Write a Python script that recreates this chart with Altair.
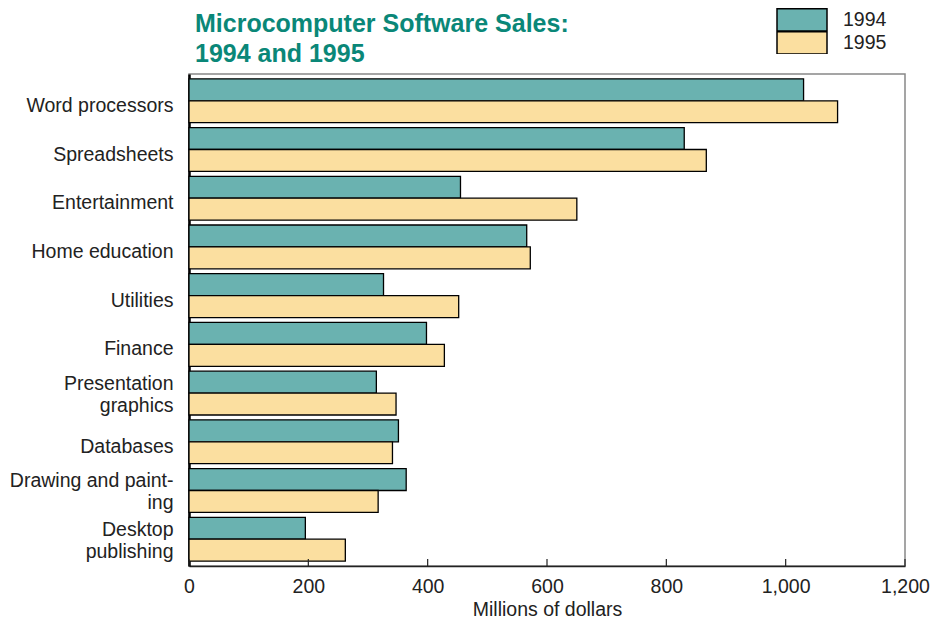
import altair as alt
import pandas as pd

categories = ["Word processors", "Spreadsheets", "Entertainment", "Home education",
              "Utilities", "Finance", "Presentation\ngraphics", "Databases",
              "Drawing and paint-\ning", "Desktop\npublishing"]
sales_1994 = [1030, 830, 455, 566, 326, 398, 314, 351, 364, 195]
sales_1995 = [1087, 867, 650, 572, 452, 428, 347, 341, 317, 262]
years = ["1994", "1995"]
x_ticks = [0, 200, 400, 600, 800, 1000, 1200]

rows = []
for c, a, b in zip(categories, sales_1994, sales_1995):
    rows.append({"category": c, "year": "1994", "value": a})
    rows.append({"category": c, "year": "1995", "value": b})
df = pd.DataFrame(rows)
ticks_df = pd.DataFrame({"t": x_ticks})

FONT = "Liberation Sans"
W, H = 716, 492

xscale = alt.Scale(domain=[0, 1200], nice=False, zero=True)

bars = alt.Chart(df).mark_bar(stroke="black", strokeWidth=1.3).encode(
    x=alt.X("value:Q", scale=xscale,
            axis=alt.Axis(values=x_ticks, format=",d", ticks=False, grid=False,
                          labelFlush=False, labelOverlap=False,
                          labelPadding=11, labelFontSize=19.5, labelFont=FONT,
                          labelColor="#222", domainColor="#222", domainWidth=1.5,
                          title="Millions of dollars", titleFont=FONT, titleFontSize=19.5,
                          titleFontWeight="normal", titleColor="#222", titlePadding=5)),
    y=alt.Y("category:N", sort=categories,
            scale=alt.Scale(paddingInner=0.1, paddingOuter=0.1),
            axis=alt.Axis(ticks=False, grid=False, labelPadding=16, labelFontSize=19.5,
                          labelFont=FONT, labelColor="#222", labelAlign="right",
                          labelBaseline="middle", labelLineHeight=22,
                          labelOffset={"condition": {"test": "indexof(datum.value, '\\n') >= 0",
                                                     "value": -9},
                                       "value": 5},
                          labelExpr="split(datum.label, '\\n')",
                          domainColor="black", domainWidth=2.5, title=None)),
    yOffset=alt.YOffset("year:N", sort=years, scale=alt.Scale(paddingInner=0, paddingOuter=0)),
    color=alt.Color("year:N", sort=years,
                    scale=alt.Scale(domain=years, range=["#6AB2B0", "#FBDFA0"]),
                    legend=alt.Legend(title=None, orient="none", legendX=587, legendY=-66,
                                      symbolType="M-1,-0.94H3.348V1H-1Z", symbolSize=529,
                                      symbolStrokeColor="black", symbolStrokeWidth=1.5,
                                      symbolOpacity=1, rowPadding=0, padding=0, clipHeight=23,
                                      labelOffset=42, labelFontSize=19.5, labelFont=FONT,
                                      labelColor="#222")),
)

tick_marks = alt.Chart(ticks_df).mark_rule(color="#222", strokeWidth=1.2).encode(
    x=alt.X("t:Q", scale=xscale),
    y=alt.value(H - 7),
    y2=alt.value(H),
)

chart = alt.layer(bars, tick_marks).properties(
    width=W, height=H,
    autosize=alt.AutoSizeParams(type="none"),
    padding={"left": 181, "top": 66, "right": 25, "bottom": 53},
    title=alt.TitleParams(text=["Microcomputer Software Sales:", "1994 and 1995"],
                          anchor="start", frame="group", dx=6, dy=96, fontSize=25, font=FONT,
                          fontWeight="bold", color="#0A8778", lineHeight=30,
                          baseline="bottom", offset=12),
).configure_view(stroke="#888", strokeWidth=1.5)

chart.save("out.html", embed_options={"renderer": "svg", "actions": False})
